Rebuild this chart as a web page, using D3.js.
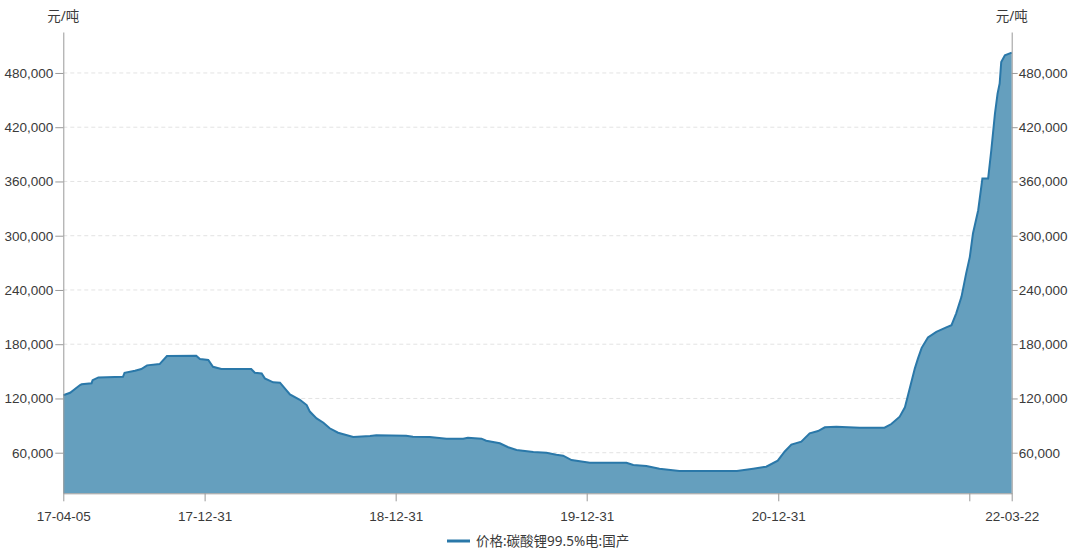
<html>
  <head>
    <meta charset="utf-8">
    <script src="https://d3js.org/d3.v7.min.js"></script>
    <style>
      body { margin: 0; background: white; font-family: "Noto Sans", "Noto Sans CJK SC", sans-serif; }
      .grid line { stroke: #e3e3e3; stroke-dasharray: 4,3; }
      .axis path, .axis line { stroke: #999; }
      .axis text { fill: #3a3a3a; font-size: 13.5px; }
    </style>
  </head>
  <body>
    <svg id="chart" width="1080" height="551"></svg>
    <script>
      // price series, yuan per ton
      var dates = [
        '2017-04-05','2017-04-18','2017-05-07','2017-05-10','2017-05-29','2017-05-31','2017-06-11','2017-07-28',
        '2017-07-31','2017-08-20','2017-09-01','2017-09-12','2017-10-06','2017-10-20','2017-12-15','2017-12-22',
        '2018-01-07','2018-01-16','2018-02-01','2018-03-30','2018-04-06','2018-04-19','2018-04-25','2018-05-11',
        '2018-05-24','2018-06-12','2018-07-01','2018-07-14','2018-07-20','2018-08-02','2018-08-15','2018-08-27',
        '2018-09-12','2018-10-11','2018-11-12','2018-11-24','2019-01-20','2019-02-02','2019-03-06','2019-04-07',
        '2019-05-09','2019-05-18','2019-06-13','2019-06-22','2019-07-18','2019-08-03','2019-08-19','2019-09-20',
        '2019-10-15','2019-11-03','2019-11-16','2019-12-02','2020-01-06','2020-03-16','2020-03-29','2020-04-23',
        '2020-05-18','2020-06-25','2020-10-13','2020-11-13','2020-12-08','2020-12-30','2021-01-12','2021-01-25',
        '2021-02-13','2021-03-01','2021-03-17','2021-03-30','2021-04-21','2021-06-05','2021-07-22','2021-08-04',
        '2021-08-20','2021-08-30','2021-09-05','2021-09-18','2021-09-24','2021-10-01','2021-10-13','2021-10-29',
        '2021-11-17','2021-11-27','2021-12-06','2021-12-16','2021-12-25','2022-01-01','2022-01-07','2022-01-17',
        '2022-01-25','2022-02-05','2022-02-11','2022-02-18','2022-02-23','2022-02-27','2022-03-02','2022-03-09',
        '2022-03-22'
      ];
      var prices = [
        123500,126300,134800,135600,136700,140300,143300,144000,
        148400,150600,152500,156600,158000,166900,167200,163600,
        162500,155000,152500,152500,148400,147700,142200,137800,
        137400,124500,118500,112700,105500,98000,93200,87000,
        82100,77400,78500,79200,78800,77700,77400,75500,
        75500,76600,75500,73300,70400,66000,63000,60800,
        60000,57800,56700,51900,48950,48950,46400,45300,
        42300,39800,39800,42300,44500,51200,61100,69000,
        72200,81400,84000,88100,88700,87600,87600,91700,
        99800,110200,123800,153300,164300,176000,187500,193700,
        198600,201100,214100,232400,258300,276600,302500,328200,
        363300,363300,394500,435100,457200,468300,492200,499500,
        502500
      ];
      var yTicks = [60000, 120000, 180000, 240000, 300000, 360000, 420000, 480000];
      var xTickDates = ['2017-04-05','2017-12-31','2018-12-31','2019-12-31','2020-12-31','2021-12-31','2022-03-22'];
      var hiddenLabels = ['2021-12-31'];
      var seriesName = '价格:碳酸锂99.5%电:国产';
      var unit = '元/吨';

      (function() {
        var parse = d3.timeParse('%Y-%m-%d');
        var fmt = d3.timeFormat('%y-%m-%d');
        var data = dates.map(function(d, i) { return { date: parse(d), value: prices[i] }; });

        var plotL = 63.3, plotR = 1011.7, plotT = 32, plotB = 493.3;
        var svg = d3.select('#chart');

        var x = d3.scaleTime()
          .domain([parse(dates[0]), parse(dates[dates.length - 1])])
          .range([plotL, plotR]);
        var y = d3.scaleLinear()
          .domain([15100, 525300])
          .range([plotB, plotT]);

        // dashed grid
        svg.append('g').attr('class', 'grid')
          .selectAll('line').data(yTicks).enter().append('line')
          .attr('x1', plotL).attr('x2', plotR)
          .attr('y1', function(d) { return y(d); }).attr('y2', function(d) { return y(d); });

        var area = d3.area()
          .x(function(d) { return x(d.date); })
          .y0(plotB)
          .y1(function(d) { return y(d.value); });
        var line = d3.line()
          .x(function(d) { return x(d.date); })
          .y(function(d) { return y(d.value); });

        svg.append('path').datum(data).attr('d', area).attr('fill', '#659fbe');
        svg.append('path').datum(data).attr('d', line)
          .attr('fill', 'none').attr('stroke', '#2a78a9').attr('stroke-width', 2);

        var yFmt = d3.format(',');
        var yLeft = d3.axisLeft(y).tickValues(yTicks).tickFormat(yFmt).tickSize(8).tickSizeOuter(0);
        var yRight = d3.axisRight(y).tickValues(yTicks).tickFormat(yFmt).tickSize(6).tickSizeOuter(0);
        var gL = svg.append('g').attr('class', 'axis').attr('transform', 'translate(' + plotL + ',0)').call(yLeft);
        var gR = svg.append('g').attr('class', 'axis').attr('transform', 'translate(' + plotR + ',0)').call(yRight);
        gL.selectAll('text').attr('x', -10);
        gR.selectAll('text').attr('x', 7);

        var xAxis = d3.axisBottom(x)
          .tickValues(xTickDates.map(parse))
          .tickFormat(function(d) { return hiddenLabels.indexOf(d3.timeFormat('%Y-%m-%d')(d)) >= 0 ? '' : fmt(d); })
          .tickSize(8).tickSizeOuter(0);
        var gX = svg.append('g').attr('class', 'axis').attr('transform', 'translate(0,' + plotB + ')').call(xAxis);
        gX.selectAll('text').attr('dy', '1.25em');

        // unit labels
        [plotL, plotR].forEach(function(px) {
          svg.append('text').attr('x', px).attr('y', 21).attr('text-anchor', 'middle')
            .attr('fill', '#3a3a3a').style('font-size', '13.5px').text(unit);
        });

        // legend
        var lg = svg.append('g').attr('transform', 'translate(447,541)');
        lg.append('line').attr('x2', 23).attr('stroke', '#2a78a9').attr('stroke-width', 3);
        lg.append('text').attr('x', 29).attr('y', 5).attr('fill', '#3a3a3a')
          .style('font-size', '13.5px').text(seriesName);
      })();
    </script>
  </body>
</html>
